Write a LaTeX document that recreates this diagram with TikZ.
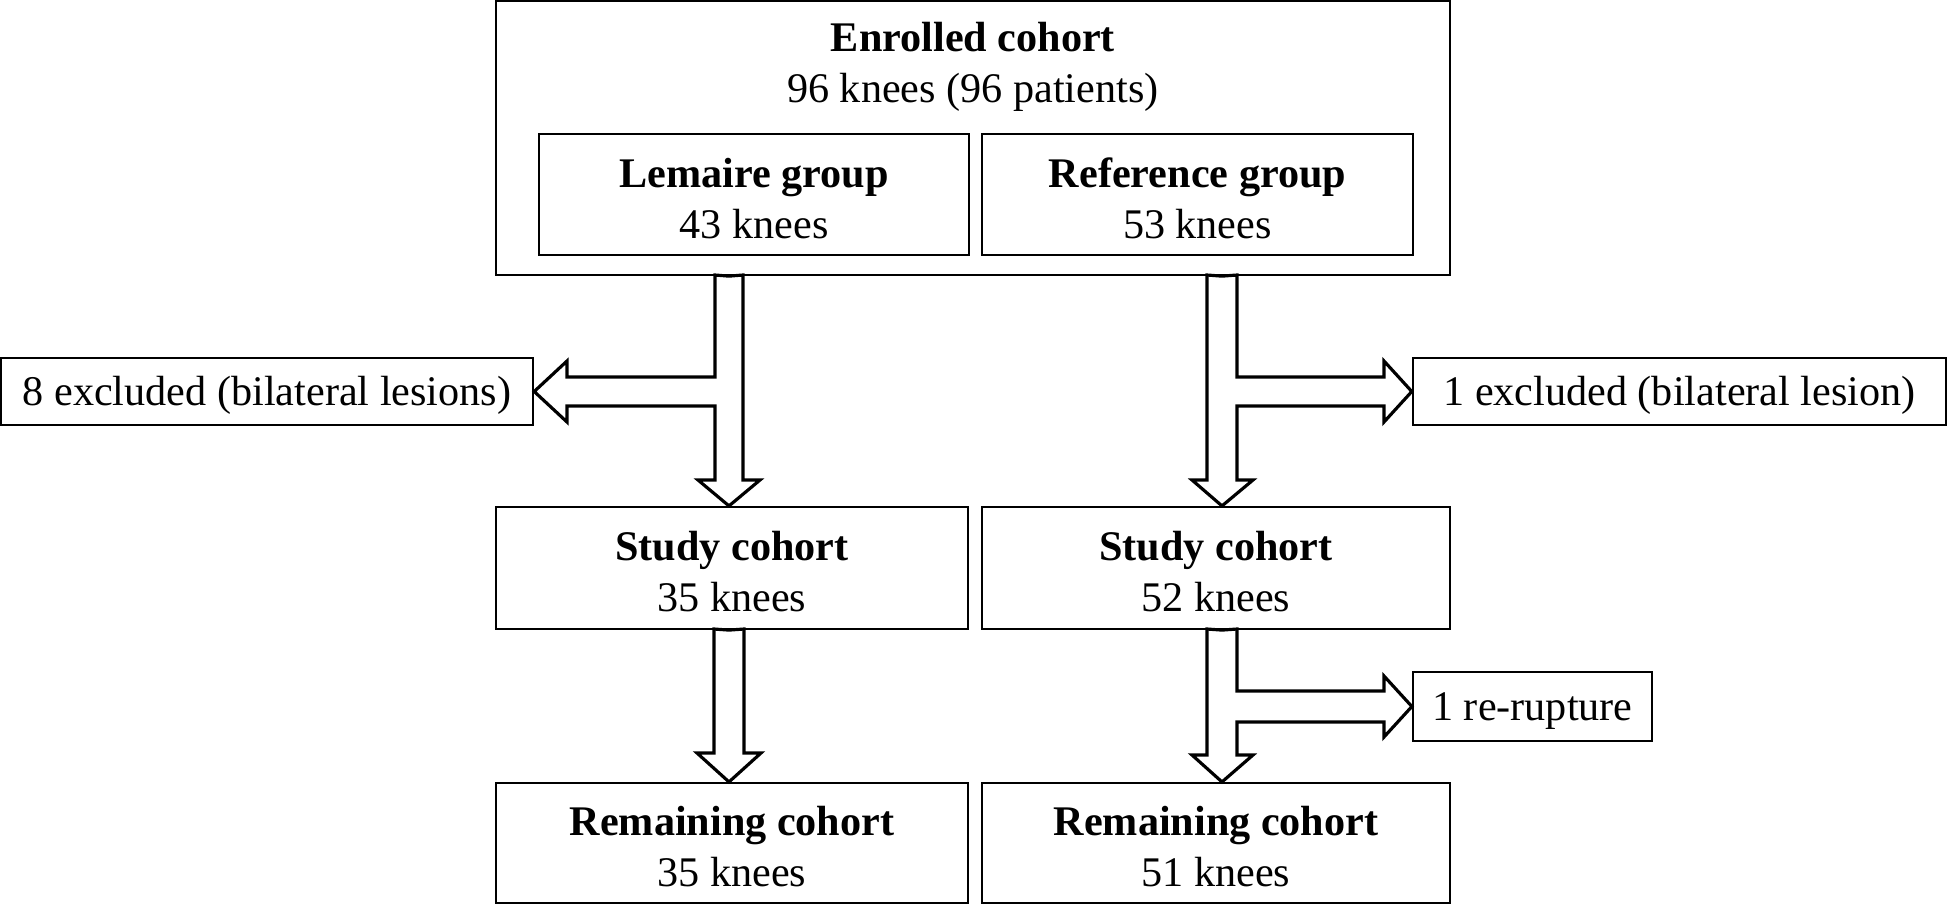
\documentclass[tikz,border=0pt]{standalone}
\usepackage{fontspec}
\setmainfont{Liberation Serif}
\begin{document}
\begin{tikzpicture}[x=0.01cm,y=-0.01cm,
  box/.style={draw, line width=0.6pt, inner sep=0pt, align=center, font=\fontsize{12}{14.5}\selectfont},
  twoline/.style={text height=25pt, text depth=0pt},
  oneline/.style={text height=10.7pt, text depth=2.5pt},
  txt/.style={inner sep=0pt, align=center, font=\fontsize{12}{14.5}\selectfont},
  blockarrow/.style={draw, line width=0.9pt, fill=white, line join=miter}]
\useasboundingbox (0,0) rectangle (1947,905);
% boxes
\node[box, minimum width=9.54cm, minimum height=2.74cm] (enrolled) at (973,138) {};
\node[txt, twoline] (title) at (973,59) {\textbf{Enrolled cohort}\\96 knees (96 patients)};
\node[box, twoline, minimum width=4.30cm, minimum height=1.21cm] (lemaire) at (754,194.5) {\textbf{Lemaire group}\\43 knees};
\node[box, twoline, minimum width=4.31cm, minimum height=1.21cm] (reference) at (1197.5,194.5) {\textbf{Reference group}\\53 knees};
\node[box, oneline, minimum width=5.32cm, minimum height=0.67cm] (exclL) at (267,391.5) {8 excluded (bilateral lesions)};
\node[box, oneline, minimum width=5.33cm, minimum height=0.67cm] (exclR) at (1679.5,391.5) {1 excluded (bilateral lesion)};
\node[box, twoline, minimum width=4.72cm, minimum height=1.22cm] (studyL) at (732,568) {\textbf{Study cohort}\\35 knees};
\node[box, twoline, minimum width=4.68cm, minimum height=1.22cm] (studyR) at (1216,568) {\textbf{Study cohort}\\52 knees};
\node[box, oneline, minimum width=2.39cm, minimum height=0.69cm] (rerupt) at (1532.5,706.5) {1 re-rupture};
\node[box, twoline, minimum width=4.72cm, minimum height=1.20cm] (remL) at (732,843) {\textbf{Remaining cohort}\\35 knees};
\node[box, twoline, minimum width=4.68cm, minimum height=1.20cm] (remR) at (1216,843) {\textbf{Remaining cohort}\\51 knees};
% arrow axes
\coordinate (axL) at (729,0);
\coordinate (axR) at (1222,0);
% Lemaire -> study, branch left
\draw[blockarrow] (axL |- enrolled.south) -- (743,275) -- (743,480) -- (760,480) -- (axL |- studyL.north)
  -- (698,480) -- (715,480) -- (715,406) -- (567,406) -- (567,422) -- (exclL.east) -- (567,361)
  -- (567,377) -- (715,377) -- (715,275) -- cycle;
% Reference -> study, branch right
\draw[blockarrow] (axR |- enrolled.south) -- (1207,275) -- (1207,480) -- (1192,480) -- (axR |- studyR.north)
  -- (1253,480) -- (1237,480) -- (1237,406) -- (1384,406) -- (1384,422) -- (exclR.west) -- (1384,361)
  -- (1384,377) -- (1237,377) -- (1237,275) -- cycle;
% left study -> remaining
\draw[blockarrow] (axL |- studyL.south) -- (744,629) -- (744,753) -- (761,753) -- (axL |- remL.north)
  -- (697,753) -- (714,753) -- (714,629) -- cycle;
% right study -> remaining, branch right
\draw[blockarrow] (axR |- studyR.south) -- (1207,629) -- (1207,755) -- (1192,755) -- (axR |- remR.north)
  -- (1253,755) -- (1237,755) -- (1237,722) -- (1384,722) -- (1384,737) -- (rerupt.west) -- (1384,676)
  -- (1384,691) -- (1237,691) -- (1237,629) -- cycle;
\end{tikzpicture}
\end{document}
